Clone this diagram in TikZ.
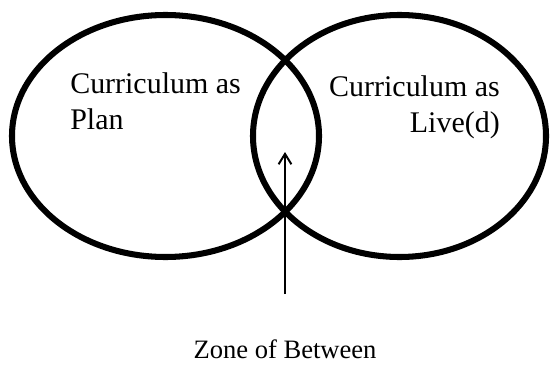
\documentclass[tikz,border=0pt]{standalone}
\usepackage{fontspec}
\setmainfont{Liberation Serif}
\usetikzlibrary{shapes.geometric}
\usetikzlibrary{arrows.meta}
\usetikzlibrary{positioning}

\begin{document}
\begin{tikzpicture}[
        ring/.style={draw=black, ellipse, line width=4.3pt, minimum height=6.05cm, inner sep=0pt},
        curtext/.style={inner sep=0pt, font=\fontsize{21.3pt}{25.8pt}\selectfont}
    ]
        \useasboundingbox (0,0) rectangle (13.75,-9.125);

        % the two curricula
        \node (plan) [ring, minimum width=7.675cm] at (4.1375,-3.4) {};
        \node (lived) [ring, minimum width=7.325cm] at (9.9875,-3.4) {};

        \node (plantext) [curtext, anchor=north west, align=left] at (1.75,-1.8) {Curriculum as\\Plan};
        \node (livedtext) [curtext, anchor=north east, align=right] at (12.5,-1.875) {Curriculum as\\Live(d)};

        % arrow into the overlap
        \coordinate (foot) at (7.125,-7.35);
        \coordinate (tip) at (7.125,-3.8);
        \draw [-{Straight Barb[length=2.6mm,width=3.2mm]}, line width=1.4pt] (foot) -- (tip);

        \node (zone) [below=1.15cm of foot, inner sep=0pt, font=\fontsize{18.9pt}{22pt}\selectfont] {Zone of Between};
    \end{tikzpicture}
\end{document}
